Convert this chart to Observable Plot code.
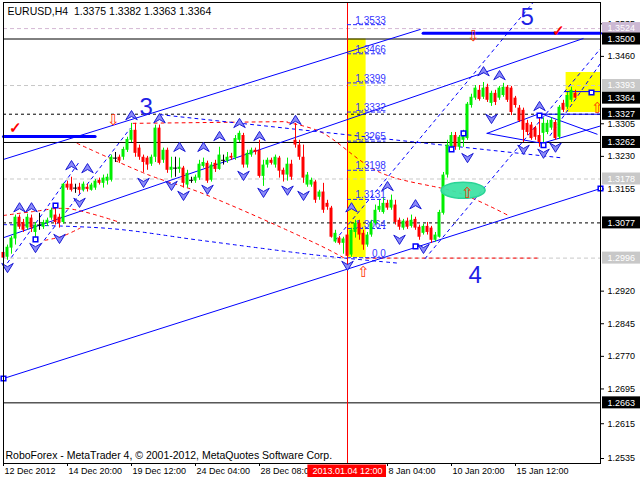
<!DOCTYPE html>
<html><head><meta charset="utf-8">
<script src="https://cdn.jsdelivr.net/npm/d3@7"></script>
<script src="https://cdn.jsdelivr.net/npm/@observablehq/plot@0.6"></script>
<style>html,body{margin:0;padding:0;background:#fff;}</style>
</head><body><div id="chart"></div>
<script>
// ---------------- data ----------------
const symbolName = "EURUSD,H4";
const copyright = "RoboForex - MetaTrader 4, \u00a9 2001-2012, MetaQuotes Software Corp.";
const open = [1.3009,1.2998,1.3019,1.3040,1.3090,1.3078,1.3065,1.3088,1.3055,1.3072,
1.3067,1.3076,1.3088,1.3095,1.3090,1.3078,1.3166,1.3166,1.3157,1.3159,
1.3152,1.3159,1.3152,1.3157,1.3175,1.3168,1.3173,1.3175,1.3226,1.3228,
1.3228,1.3244,1.3267,1.3290,1.3249,1.3228,1.3226,1.3212,1.3228,1.3295,
1.3221,1.3244,1.3198,1.3203,1.3200,1.3203,1.3164,1.3175,1.3173,1.3180,
1.3207,1.3214,1.3175,1.3214,1.3200,1.3221,1.3219,1.3230,1.3226,1.3267,
1.3278,1.3210,1.3233,1.3244,1.3244,1.3184,1.3210,1.3221,1.3210,1.3226,
1.3198,1.3187,1.3212,1.3267,1.3256,1.3228,1.3164,1.3164,1.3171,1.3136,
1.3148,1.3122,1.3111,1.3033,1.3042,1.3030,1.3049,1.3003,1.3055,1.3076,
1.3053,1.3026,1.3049,1.3076,1.3106,1.3101,1.3122,1.3111,1.3118,1.3083,
1.3065,1.3081,1.3069,1.3085,1.3067,1.3053,1.3069,1.3065,1.3037,1.3044,
1.3099,1.3187,1.3251,1.3278,1.3251,1.3267,1.3271,1.3347,1.3364,1.3382,
1.3366,1.3389,1.3352,1.3375,1.3364,1.3370,1.3389,1.3387,1.3364,1.3341,
1.3336,1.3306,1.3302,1.3295,1.3278,1.3283,1.3285,1.3295,1.3308,1.3274,
1.3352,1.3343,1.3359,1.3375];
const high = [1.3016,1.3026,1.3046,1.3095,1.3095,1.3085,1.3097,1.3095,1.3078,1.3099,
1.3083,1.3088,1.3111,1.3118,1.3097,1.3168,1.3173,1.3182,1.3166,1.3168,
1.3171,1.3166,1.3168,1.3177,1.3180,1.3187,1.3189,1.3233,1.3239,1.3233,
1.3251,1.3274,1.3306,1.3306,1.3256,1.3233,1.3230,1.3233,1.3302,1.3302,
1.3249,1.3249,1.3228,1.3228,1.3226,1.3207,1.3198,1.3182,1.3187,1.3221,
1.3226,1.3219,1.3216,1.3221,1.3251,1.3233,1.3239,1.3237,1.3278,1.3288,
1.3283,1.3244,1.3249,1.3249,1.3267,1.3221,1.3226,1.3226,1.3233,1.3230,
1.3203,1.3226,1.3221,1.3306,1.3267,1.3256,1.3193,1.3180,1.3175,1.3152,
1.3168,1.3129,1.3115,1.3060,1.3046,1.3044,1.3065,1.3065,1.3083,1.3083,
1.3060,1.3055,1.3083,1.3118,1.3129,1.3134,1.3129,1.3141,1.3129,1.3088,
1.3085,1.3088,1.3095,1.3090,1.3072,1.3074,1.3078,1.3069,1.3055,1.3106,
1.3193,1.3267,1.3285,1.3285,1.3278,1.3290,1.3354,1.3373,1.3393,1.3393,
1.3400,1.3396,1.3380,1.3382,1.3391,1.3398,1.3393,1.3391,1.3368,1.3347,
1.3341,1.3313,1.3308,1.3299,1.3322,1.3318,1.3313,1.3318,1.3313,1.3347,
1.3359,1.3377,1.3389,1.3382];
const low = [1.2989,1.2991,1.3005,1.3026,1.3062,1.3055,1.3060,1.3055,1.3042,1.3060,
1.3062,1.3069,1.3083,1.3072,1.3065,1.3074,1.3152,1.3148,1.3145,1.3143,
1.3148,1.3148,1.3150,1.3152,1.3164,1.3157,1.3164,1.3171,1.3216,1.3214,
1.3221,1.3239,1.3262,1.3228,1.3221,1.3193,1.3198,1.3207,1.3216,1.3210,
1.3214,1.3191,1.3180,1.3182,1.3191,1.3157,1.3157,1.3168,1.3168,1.3175,
1.3203,1.3168,1.3171,1.3193,1.3198,1.3210,1.3214,1.3221,1.3221,1.3262,
1.3203,1.3203,1.3228,1.3233,1.3180,1.3161,1.3203,1.3210,1.3203,1.3180,
1.3171,1.3173,1.3175,1.3249,1.3221,1.3168,1.3159,1.3159,1.3122,1.3129,
1.3099,1.3106,1.3042,1.3030,1.3026,1.3005,1.2991,1.2998,1.3042,1.3037,
1.3014,1.3021,1.3044,1.3072,1.3101,1.3097,1.3106,1.3106,1.3072,1.3060,
1.3060,1.3062,1.3065,1.3060,1.3037,1.3049,1.3049,1.3030,1.3033,1.3042,
1.3095,1.3180,1.3244,1.3244,1.3244,1.3251,1.3267,1.3341,1.3359,1.3357,
1.3361,1.3354,1.3345,1.3347,1.3359,1.3366,1.3354,1.3324,1.3341,1.3308,
1.3262,1.3278,1.3267,1.3267,1.3251,1.3256,1.3280,1.3290,1.3267,1.3269,
1.3331,1.3338,1.3354,1.3363];
const close = [1.2996,1.3021,1.3042,1.3090,1.3067,1.3060,1.3090,1.3065,1.3072,1.3072,
1.3078,1.3083,1.3106,1.3078,1.3076,1.3166,1.3157,1.3152,1.3157,1.3152,
1.3166,1.3154,1.3164,1.3173,1.3168,1.3180,1.3182,1.3228,1.3226,1.3219,
1.3246,1.3269,1.3290,1.3237,1.3228,1.3216,1.3210,1.3228,1.3295,1.3214,
1.3244,1.3198,1.3205,1.3203,1.3205,1.3168,1.3191,1.3175,1.3182,1.3212,
1.3216,1.3173,1.3210,1.3200,1.3233,1.3221,1.3228,1.3226,1.3271,1.3283,
1.3210,1.3237,1.3244,1.3239,1.3184,1.3210,1.3221,1.3214,1.3228,1.3196,
1.3187,1.3212,1.3182,1.3256,1.3228,1.3180,1.3187,1.3175,1.3129,1.3148,
1.3106,1.3113,1.3044,1.3053,1.3030,1.3040,1.3000,1.3060,1.3076,1.3049,
1.3026,1.3049,1.3076,1.3106,1.3115,1.3122,1.3111,1.3129,1.3078,1.3067,
1.3081,1.3067,1.3083,1.3065,1.3044,1.3069,1.3055,1.3037,1.3049,1.3101,
1.3187,1.3256,1.3278,1.3251,1.3274,1.3283,1.3350,1.3366,1.3387,1.3361,
1.3387,1.3359,1.3375,1.3354,1.3387,1.3389,1.3359,1.3331,1.3347,1.3311,
1.3290,1.3285,1.3271,1.3274,1.3262,1.3306,1.3306,1.3313,1.3271,1.3343,
1.3336,1.3370,1.3382,1.3364];

const xTickIndex = [0, 16, 32, 48, 64, 96, 112, 128];
const xTickLabels = ["12 Dec 2012", "14 Dec 20:00", "19 Dec 12:00", "24 Dec 04:00", "28 Dec 08:00", "8 Jan 04:00", "10 Jan 20:00", "15 Jan 12:00"];
const markerIndex = 86;
const markerLabel = "2013.01.04 12:00";

const yTicks = [1.3535, 1.3460, 1.3305, 1.3230, 1.3155, 1.2920, 1.2845, 1.2770, 1.2695, 1.2615, 1.2535];
const solidLevels = [1.3500, 1.3262, 1.2663];
const dashedLevels = [1.3327, 1.3077];
const grayLevels = [1.3393, 1.3178, 1.2996];
const pinkLevels = [1.3524];
const boxPrices = [1.3524, 1.3500, 1.3393, 1.3364, 1.3327, 1.3262, 1.3178, 1.3077, 1.2996, 1.2663];
const boxKinds  = ["pink", "black", "gray", "black", "black", "black", "gray", "black", "gray", "black"];

// Fibonacci grid anchored at the Jan 4 low
const fibLevels = [1.3533, 1.3466, 1.3399, 1.3332, 1.3265, 1.3198, 1.3131, 1.3064, 1.2997];
const fibLabels = ["1.3533", "1.3466", "1.3399", "1.3332", "1.3265", "1.3198", "1.3131", "1.3064", "0.0"];
const fibSpan = [86, 95.6];
const fibBand = [86, 90.65, 1.2997, 1.3500];
const targetBox = [140.65, 149.25, 1.3331, 1.3423];

// lines: [bar index, price] points
const solidBlue = [
  [[0, 1.2719], [149.25, 1.3156]],
  [[0, 1.3223], [104.2, 1.3522]],
  [[0, 1.3043], [144.9, 1.3501]],
  [[120.9, 1.3283], [134.15, 1.3329], [148.4, 1.3281]],
  [[120.9, 1.3283], [134.65, 1.3260], [149.25, 1.3300]],
  [[133.65, 1.3327], [149.25, 1.3327]],
  [[140.4, 1.3379], [149.25, 1.3379]]
];
const dashedBlue = [
  [[39.15, 1.3326], [139.15, 1.3227]],
  [[0, 1.3073], [26.65, 1.3064], [49.15, 1.3037], [79.15, 1.3002], [99.15, 1.2984]],
  [[82.9, 1.3037], [132.4, 1.3584]],
  [[105.4, 1.2995], [149.25, 1.3478]],
  [[0, 1.2972], [19.15, 1.3220]],
  [[9.15, 1.3025], [31.65, 1.3294]],
  [[136.65, 1.3278], [149.25, 1.3444]]
];
const dashedRed = [
  [[18.4, 1.3260], [36.65, 1.3186], [49.15, 1.3147], [79.15, 1.3025], [85.4, 1.2995]],
  [[32.4, 1.3306], [70.9, 1.3310]],
  [[70.9, 1.3308], [79.15, 1.3287], [94.15, 1.3193], [114.15, 1.3145], [126.65, 1.3092]],
  [[0, 1.3094], [7.4, 1.3103], [15.9, 1.3110], [29.15, 1.3078]],
  [[10.4, 1.3037], [14.65, 1.3046], [19.15, 1.3065]],
  [[90.65, 1.2996], [134.15, 1.2996]]
];
const thickBlue = [
  [[0, 1.3276], [22.9, 1.3276]],
  [[104.9, 1.3513], [149.25, 1.3513]]
];
const fractalUp = [[4,1.3112],[7,1.3112],[17,1.3209],[21,1.3202],[32,1.3324],[39,1.3317],[44,1.3251],[50,1.3251],[54,1.3276],[59,1.3306],[64,1.3276],[73,1.3313],[87,1.3112],[96,1.3161],[103,1.3119],[120,1.3425],[124,1.3416],[134,1.3345]];
const fractalDown = [[1,1.2974],[8,1.3020],[14,1.3041],[19,1.3124],[35,1.3170],[42,1.3163],[45,1.3140],[51,1.3154],[60,1.3186],[65,1.3147],[71,1.3152],[75,1.3140],[86,1.2979],[99,1.3039],[105,1.3018],[116,1.3227],[122,1.3317],[130,1.3246],[135,1.3237],[138,1.3251]];
const squares = [[0,1.2719],[149.25,1.3156],[8,1.3039],[13,1.3117],[103,1.3023],[112,1.3246],[115,1.3283],[134,1.3324],[135,1.3256],[147,1.3377]];
const waveLabels = [["3", 35.65, 1.3343], ["4", 117.9, 1.2956], ["5", 130.9, 1.3550]];
const checks = [[2.9, 1.3294], [138.65, 1.3517]];
const redDown = [[27.4, 1.3313], [117.4, 1.3507]];
const redUp = [[89.9, 1.2963], [115.9, 1.3145], [148.6, 1.3340]];
const ellipseAt = [[114.9, 1.3152]];

// ---------------- layout ----------------
const W = 640, H = 480, mL = 3, mR = 40, mT = 2, mB = 17;
const X0 = 0, X1 = 149.25, Y0 = 1.25235, Y1 = 1.3584;
const pxPerPrice = (H - mT - mB) / (Y1 - Y0);
const FONT = "'Liberation Sans', Arial, sans-serif";
const BULL = "#00ee00", BEAR = "#ff0000", BLUE = "#0000ff";

const candles = open.map((o, i) => ({i, o, h: high[i], l: low[i], c: close[i]}));
const ups = candles.filter(d => d.c > d.o);
const downs = candles.filter(d => d.c < d.o);
const dojis = candles.filter(d => d.c === d.o);
const pts = arr => arr.map(([i, p]) => ({i, p}));
const segs = lines => lines.flatMap((line, k) => line.map(([i, p]) => ({k, i, p})));
const boxes = boxPrices.map((p, k) => ({p, kind: boxKinds[k]}));
const boxColor = {pink: "#cbb8d3", black: "#000000", gray: "#c8c8c8"};
const fib = fibLevels.map((p, k) => ({p, t: fibLabels[k]}));

const arrowUp = {draw(ctx, size) { const r = Math.sqrt(size / Math.PI);
  ctx.moveTo(0, -r); ctx.lineTo(r * 1.15, r * 0.85); ctx.lineTo(0, r * 0.2); ctx.lineTo(-r * 1.15, r * 0.85); ctx.closePath(); }};
const arrowDown = {draw(ctx, size) { const r = Math.sqrt(size / Math.PI);
  ctx.moveTo(0, r); ctx.lineTo(r * 1.15, -r * 0.85); ctx.lineTo(0, -r * 0.2); ctx.lineTo(-r * 1.15, -r * 0.85); ctx.closePath(); }};
const ellipse = {draw(ctx) { const rx = 22, ry = 8, k = 0.5523;
  ctx.moveTo(rx, 0);
  ctx.bezierCurveTo(rx, ry * k, rx * k, ry, 0, ry);
  ctx.bezierCurveTo(-rx * k, ry, -rx, ry * k, -rx, 0);
  ctx.bezierCurveTo(-rx, -ry * k, -rx * k, -ry, 0, -ry);
  ctx.bezierCurveTo(rx * k, -ry, rx, -ry * k, rx, 0);
  ctx.closePath(); }};

const boxHalf = 6 / pxPerPrice;
const priceBoxMarks = boxes.flatMap(b => [
  Plot.rect([b], {x1: X1 + 0.5, x2: X1 + 10, y1: d => d.p - boxHalf, y2: d => d.p + boxHalf, fill: boxColor[b.kind]}),
  Plot.text([b], {x: X1, y: "p", text: d => d.p.toFixed(4), dx: 7, textAnchor: "start", fill: "white", fontSize: 9})
]);

const chart = Plot.plot({
  width: W, height: H, marginLeft: mL, marginRight: mR, marginTop: mT, marginBottom: mB,
  style: {fontFamily: FONT, fontSize: "9px", background: "#fff", color: "#000", overflow: "visible"},
  x: {type: "linear", domain: [X0, X1], ticks: xTickIndex, tickFormat: () => "", tickSize: 3, label: null},
  y: {type: "linear", domain: [Y0, Y1], axis: "right", ticks: yTicks, tickFormat: d => d.toFixed(4), tickSize: 3, tickPadding: 4, label: null},
  marks: [
    // yellow zones
    Plot.rect([fibBand], {x1: d => d[0], x2: d => d[1], y1: d => d[2], y2: d => d[3], fill: "#ffff00"}),
    Plot.rect([targetBox], {x1: d => d[0], x2: d => d[1], y1: d => d[2], y2: d => d[3], fill: "#ffff00"}),
    // horizontal levels
    Plot.ruleY(pinkLevels, {stroke: "#d4b8d4", strokeDasharray: "4,3"}),
    Plot.ruleY(grayLevels, {stroke: "#c8c8c8", strokeDasharray: "4,3"}),
    Plot.ruleY(dashedLevels, {stroke: "#000", strokeDasharray: "3,3"}),
    Plot.ruleY(solidLevels, {stroke: "#000"}),
    // vertical marker
    Plot.ruleX([markerIndex], {stroke: "#ff0000"}),
    // trend lines
    Plot.line(segs(dashedRed), {x: "i", y: "p", z: "k", stroke: "#ff0000", strokeWidth: 1, strokeDasharray: "3,4", curve: "catmull-rom"}),
    Plot.line(segs(dashedBlue), {x: "i", y: "p", z: "k", stroke: BLUE, strokeWidth: 1, strokeDasharray: "3,4", curve: "catmull-rom"}),
    Plot.line(segs(solidBlue), {x: "i", y: "p", z: "k", stroke: BLUE, strokeWidth: 1}),
    Plot.line(segs(thickBlue), {x: "i", y: "p", z: "k", stroke: BLUE, strokeWidth: 3}),
    // fibonacci
    Plot.ruleY(fib, {y: "p", x1: fibSpan[0], x2: fibSpan[1], stroke: "#2a2aff", strokeDasharray: "4,2"}),
    Plot.text(fib, {x: fibSpan[1], y: "p", text: "t", textAnchor: "end", lineAnchor: "bottom", dy: -1, fill: "#3535ff", fontSize: 10}),
    // candles
    Plot.ruleX(ups, {x: "i", y1: "l", y2: "h", stroke: BULL}),
    Plot.ruleX(downs, {x: "i", y1: "l", y2: "h", stroke: BEAR}),
    Plot.ruleX(dojis, {x: "i", y1: "l", y2: "h", stroke: "#000"}),
    Plot.rect(ups, {x1: d => d.i - 0.375, x2: d => d.i + 0.375, y1: "o", y2: "c", fill: BULL}),
    Plot.rect(downs, {x1: d => d.i - 0.375, x2: d => d.i + 0.375, y1: "o", y2: "c", fill: BEAR}),
    Plot.ruleY(dojis, {y: "c", x1: d => d.i - 0.5, x2: d => d.i + 0.5, stroke: "#000"}),
    // annotations
    Plot.dot(pts(ellipseAt), {x: "i", y: "p", symbol: ellipse, fill: "#3fe3a5", fillOpacity: 0.95, stroke: "#2bd496"}),
    Plot.dot(pts(fractalUp), {x: "i", y: "p", symbol: arrowUp, r: 5, fill: "#8a8af7", stroke: "#1c1cd6", strokeWidth: 1}),
    Plot.dot(pts(fractalDown), {x: "i", y: "p", symbol: arrowDown, r: 5, fill: "#8a8af7", stroke: "#1c1cd6", strokeWidth: 1}),
    Plot.dot(pts(squares), {x: "i", y: "p", symbol: "square", r: 2.6, fill: "white", stroke: BLUE}),
    Plot.text(pts(redDown), {x: "i", y: "p", text: () => "\u21E9", fill: "#ff3300", fontSize: 15}),
    Plot.text(pts(redUp), {x: "i", y: "p", text: () => "\u21E7", fill: "#ff3300", fontSize: 15}),
    Plot.text(pts(checks), {x: "i", y: "p", text: () => "\u2713", fill: "#ff0000", fontSize: 15, fontWeight: "bold"}),
    Plot.text(waveLabels, {x: d => d[1], y: d => d[2], text: d => d[0], fill: "#1f1fe6", fontSize: 24}),
    Plot.frame({stroke: "#000"}),
    // right side price boxes
    ...priceBoxMarks,
    // bottom time labels
    Plot.text(xTickIndex.map((i, k) => ({i, t: xTickLabels[k]})), {x: "i", text: "t", frameAnchor: "bottom", dy: 8, dx: 1, textAnchor: "start", lineAnchor: "middle", fill: "#000", fontSize: 9}),
    Plot.rect([markerIndex], {x1: d => d - 9.9, x2: d => d + 9.75, y1: Y0 - 1.5 / pxPerPrice, y2: Y0 - 14 / pxPerPrice, fill: "#ff0000"}),
    Plot.text([markerLabel], {x: markerIndex, text: d => d, frameAnchor: "bottom", dy: 8, lineAnchor: "middle", fill: "white", fontSize: 9}),
    // titles
    Plot.text([`${symbolName}  ${open.at(-1).toFixed(4)} ${high.at(-1).toFixed(4)} ${low.at(-1).toFixed(4)} ${close.at(-1).toFixed(4)}`],
      {text: d => d, frameAnchor: "top-left", dx: 4, dy: 9, textAnchor: "start", lineAnchor: "middle", fill: "#000", fontSize: 10.5}),
    Plot.text([copyright], {text: d => d, frameAnchor: "bottom-left", dx: 2, dy: -8, textAnchor: "start", lineAnchor: "middle", fill: "#000", fontSize: 10.5})
  ]
});
document.getElementById("chart").appendChild(chart);
</script>
</body></html>
